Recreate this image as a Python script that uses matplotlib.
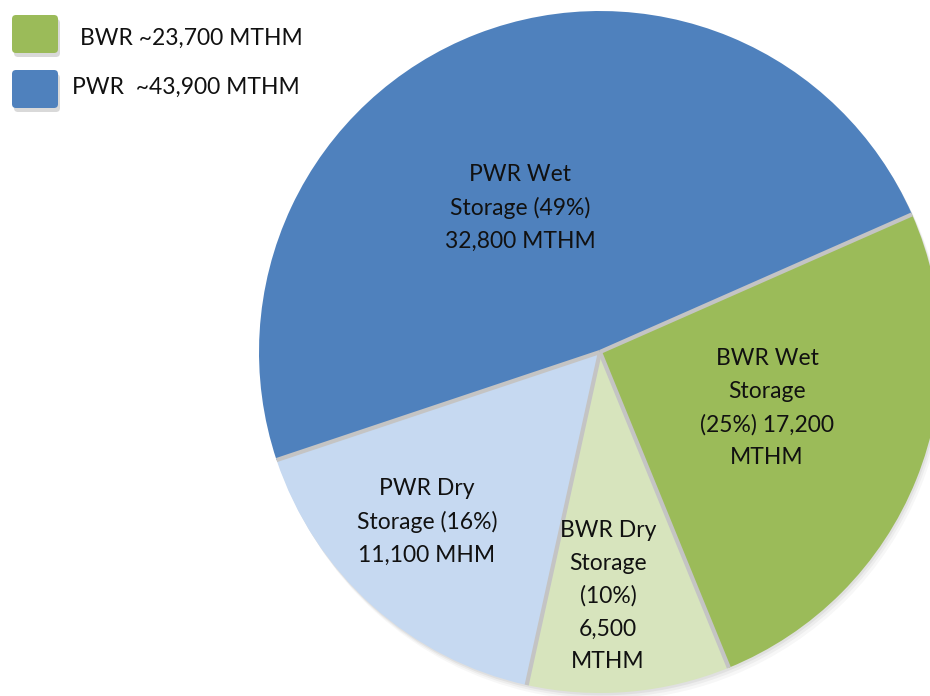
import matplotlib
matplotlib.use("Agg")
import matplotlib.pyplot as plt
from matplotlib.patches import FancyBboxPatch
import numpy as np

# Data
categories = ["BWR Wet Storage", "BWR Dry Storage", "PWR Dry Storage", "PWR Wet Storage"]
values = [17200, 6500, 11100, 32800]
label_texts = [
    "BWR Wet\nStorage\n(25%) 17,200\nMTHM",
    "BWR Dry\nStorage\n(10%)\n6,500\nMTHM",
    "PWR Dry\nStorage (16%)\n11,100 MHM",
    "PWR Wet\nStorage (49%)\n32,800 MTHM",
]
colors = ["#9BBB59", "#D7E4BD", "#C6D9F1", "#4F81BD"]
legend_labels = ["BWR ~23,700 MTHM", "PWR  ~43,900 MTHM"]
legend_colors = ["#9BBB59", "#4F81BD"]

W, H = 930, 696
CX, CY, R = 600, 352, 341
START = 23.8

plt.rcParams['font.family'] = ['Lato', 'DejaVu Sans']
fig = plt.figure(figsize=(W / 100, H / 100), dpi=100)
ax = fig.add_axes([0, 0, 1, 1])
ax.axis('off')

def px(x, y):
    return ((x - CX) / R, (CY - y) / R)

# soft shadow
for k, a in [(0.022, 0.03), (0.014, 0.04), (0.007, 0.05)]:
    ax.pie(values, startangle=START, counterclock=False, radius=1.0,
           center=(k * 0.6, -k), colors=["#000000"] * 4,
           wedgeprops=dict(linewidth=0, alpha=a))
wedges, _ = ax.pie(values, colors=colors, startangle=START, counterclock=False, radius=1.0,
                   center=(0, 0), wedgeprops=dict(linewidth=0))

# slice separators
cum = np.concatenate([[0], np.cumsum(values)]) / np.sum(values)
for f in cum[:-1]:
    ang = np.deg2rad(START - 360 * f)
    ax.plot([0, np.cos(ang)], [0, np.sin(ang)], color="#C4C4C4", lw=3, solid_capstyle='butt')

ax.set_xlim(-CX / R, (W - CX) / R)
ax.set_ylim(-(H - CY) / R, CY / R)
ax.set_aspect('auto')

label_pos = [(767, 408), (608, 596), (427, 522), (520, 208)]
for txt, (x, y) in zip(label_texts, label_pos):
    ax.text(*px(x, y), txt, ha='center', va='center', fontsize=16.5, color='#111111',
            linespacing=1.68)

# legend
boxes = [(12, 15), (12, 70)]
text_pos = [(80, 38), (72, 87)]
for (bx, by), col, lab, (tx, ty) in zip(boxes, legend_colors, legend_labels, text_pos):
    w, h = 46, 38
    sh = FancyBboxPatch((bx + 2, H - by - h - 4), w, h, boxstyle="round,pad=0,rounding_size=4",
                        transform=None, facecolor="#000000", alpha=0.15, linewidth=0)
    fig.patches.append(sh)
    p = FancyBboxPatch((bx, H - by - h), w, h, boxstyle="round,pad=0,rounding_size=4",
                       transform=None, facecolor=col, linewidth=0)
    fig.patches.append(p)
    fig.text(tx / W, 1 - ty / H, lab, ha='left', va='center', fontsize=16.5, color='#111111')

fig.savefig("out.png", dpi=100)
